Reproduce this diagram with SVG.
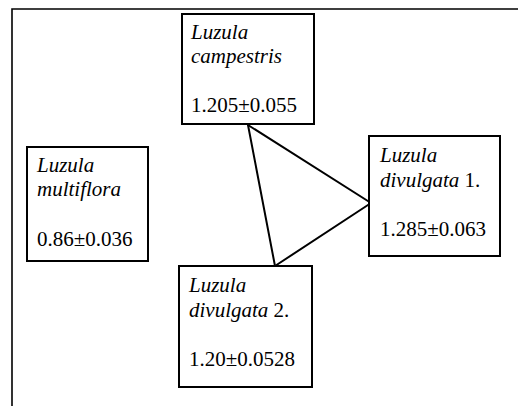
<svg xmlns="http://www.w3.org/2000/svg" width="518" height="406" viewBox="0 0 518 406">
  <style>
    .box { fill: #ffffff; stroke: #000000; stroke-width: 2; }
    .frame { fill: none; stroke: #000000; stroke-width: 1.6; }
    .link { fill: none; stroke: #000000; stroke-width: 2; stroke-linecap: round; stroke-linejoin: round; }
    text { font-family: 'Liberation Serif', 'Times New Roman', serif; font-size: 21px; fill: #000000; }
    .sp { font-style: italic; }
  </style>
  <rect width="518" height="406" fill="#ffffff"/>

  <!-- outer frame (open on right and bottom) -->
  <path class="frame" d="M12 406 V9 H518"/>

  <!-- connectors -->
  <g id="connectors">
    <line class="link" x1="248" y1="125" x2="371" y2="203"/>
    <line class="link" x1="371" y1="203" x2="275" y2="266"/>
    <line class="link" x1="275" y1="266" x2="248" y2="125"/>
  </g>

  <g font-family="Liberation Serif, serif">
    <g id="node-campestris">
      <rect class="box" x="182" y="14" width="132" height="110"/>
      <text x="191" y="38.5" class="sp">Luzula</text>
      <text x="191" y="63" class="sp">campestris</text>
      <text x="191" y="112">1.205±0.055</text>
    </g>

    <g id="node-multiflora">
      <rect class="box" x="27" y="147" width="121" height="114"/>
      <text x="37" y="171.5" class="sp">Luzula</text>
      <text x="37" y="196" class="sp">multiflora</text>
      <text x="37" y="246">0.86±0.036</text>
    </g>

    <g id="node-divulgata1">
      <rect class="box" x="369" y="136" width="131" height="120"/>
      <text x="380" y="162" class="sp">Luzula</text>
      <text x="380" y="186.5"><tspan class="sp">divulgata</tspan> 1.</text>
      <text x="380" y="235.5">1.285±0.063</text>
    </g>

    <g id="node-divulgata2">
      <rect class="box" x="179" y="266" width="133" height="121"/>
      <text x="189" y="292" class="sp">Luzula</text>
      <text x="189" y="316.5"><tspan class="sp">divulgata</tspan> 2.</text>
      <text x="189" y="365.5">1.20±0.0528</text>
    </g>
  </g>
</svg>
